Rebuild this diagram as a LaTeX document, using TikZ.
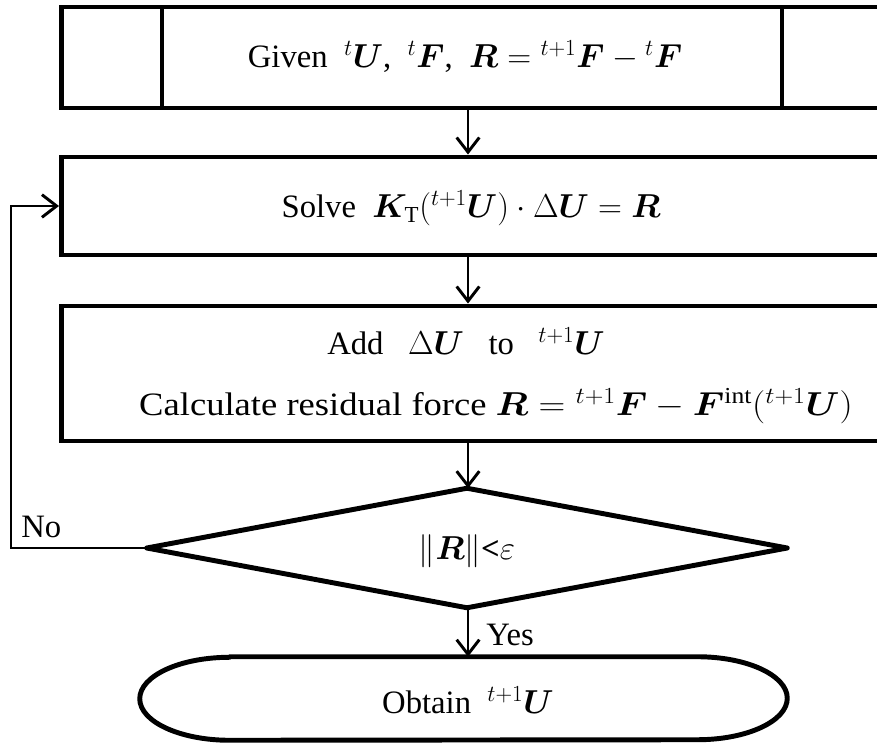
\documentclass[tikz,border=0pt]{standalone}
\usepackage{amsmath}
\usepackage{bm}
\usepackage{fontspec}
\setmainfont{Liberation Serif}
\usetikzlibrary{arrows.meta}
\begin{document}
\begin{tikzpicture}[x=0.75pt,y=-0.75pt,
  boxshape/.style={draw,line width=3.7pt,rectangle,inner sep=0pt,anchor=west},
  txt/.style={inner sep=0pt,font=\fontsize{24.5}{29}\selectfont},
  hidden/.style={inner sep=0pt,rectangle},
  arr/.style={line width=2.2pt,-{Straight Barb[length=11pt,width=17pt,line width=2.2pt]}},
  thickline/.style={line width=3.7pt,line cap=round,line join=round}]
\useasboundingbox (0,0) rectangle (877,745);
\clip (0,0) rectangle (877,745);
\coordinate (ax) at (468,0);
\coordinate (loopc) at (11,0);
% box 1
\node[boxshape,minimum width=623pt,minimum height=75.75pt] (b1) at (59,57.5) {};
\draw[line width=3.7pt] (162,7) -- (162,108);
\draw[line width=3.7pt] (782,7) -- (782,108);
\node[txt] (t1) at (465,57) {Given\ \ ${}^{t}\bm{U}$,\ \ ${}^{t}\bm{F}$,\ \ $\bm{R}={}^{t+1}\bm{F}-{}^{t}\bm{F}$};
% box 2
\node[boxshape,minimum width=623pt,minimum height=73.5pt] (b2) at (59,206) {};
\node[txt] (t2) at (471,208) {Solve\ \ $\bm{K}_{\mathrm{T}}({}^{t+1}\bm{U})\cdot\Delta\bm{U}=\bm{R}$};
% box 3
\node[boxshape,minimum width=623pt,minimum height=101.25pt] (b3) at (59,373.5) {};
\node[txt] (t3a) at (466,341) {Add\ \ \ $\Delta\bm{U}$\ \ \ to\ \ \ ${}^{t+1}\bm{U}$};
\node[txt] (t3b) at (496,406) {\scalebox{1.12}[1]{Calculate residual force $\bm{R}={}^{t+1}\bm{F}-\bm{F}^{\mathrm{int}}({}^{t+1}\bm{U})$}};
% decision
\node[hidden,minimum width=480pt,minimum height=89.25pt] (dec) at (467,548) {};
\draw[thickline] (dec.north) -- (dec.east) -- (dec.south) -- (dec.west) -- cycle;
\node[txt] (tdec) at (467,551) {$\|\bm{R}\|$\textbf{<}$\varepsilon$};
% terminal
\node[hidden,minimum width=485.25pt,minimum height=62.25pt] (obt) at (463.5,698.5) {};
\draw[thickline] ([xshift=67.5pt]obt.north west) -- ([xshift=-67.5pt]obt.north east)
  arc[start angle=90,end angle=-90,x radius=67.5pt,y radius=31.125pt]
  -- ([xshift=67.5pt]obt.south west)
  arc[start angle=270,end angle=90,x radius=67.5pt,y radius=31.125pt] -- cycle;
\node[txt] (tobt) at (468,700) {Obtain\ \ ${}^{t+1}\bm{U}$};
% connectors
\draw[arr] (b1.south -| ax) -- (b2.north -| ax);
\draw[arr] (b2.south -| ax) -- (b3.north -| ax);
\draw[arr] (b3.south -| ax) -- (dec.north -| ax);
\draw[arr] (dec.south -| ax) -- (obt.north -| ax);
\draw[arr] (dec.west) -- (dec.west -| loopc) |- (b2.west);
\node[txt,anchor=west] (no) at (21,527) {No};
\node[txt,anchor=west] (yes) at (486,635) {Yes};
\end{tikzpicture}
\end{document}
